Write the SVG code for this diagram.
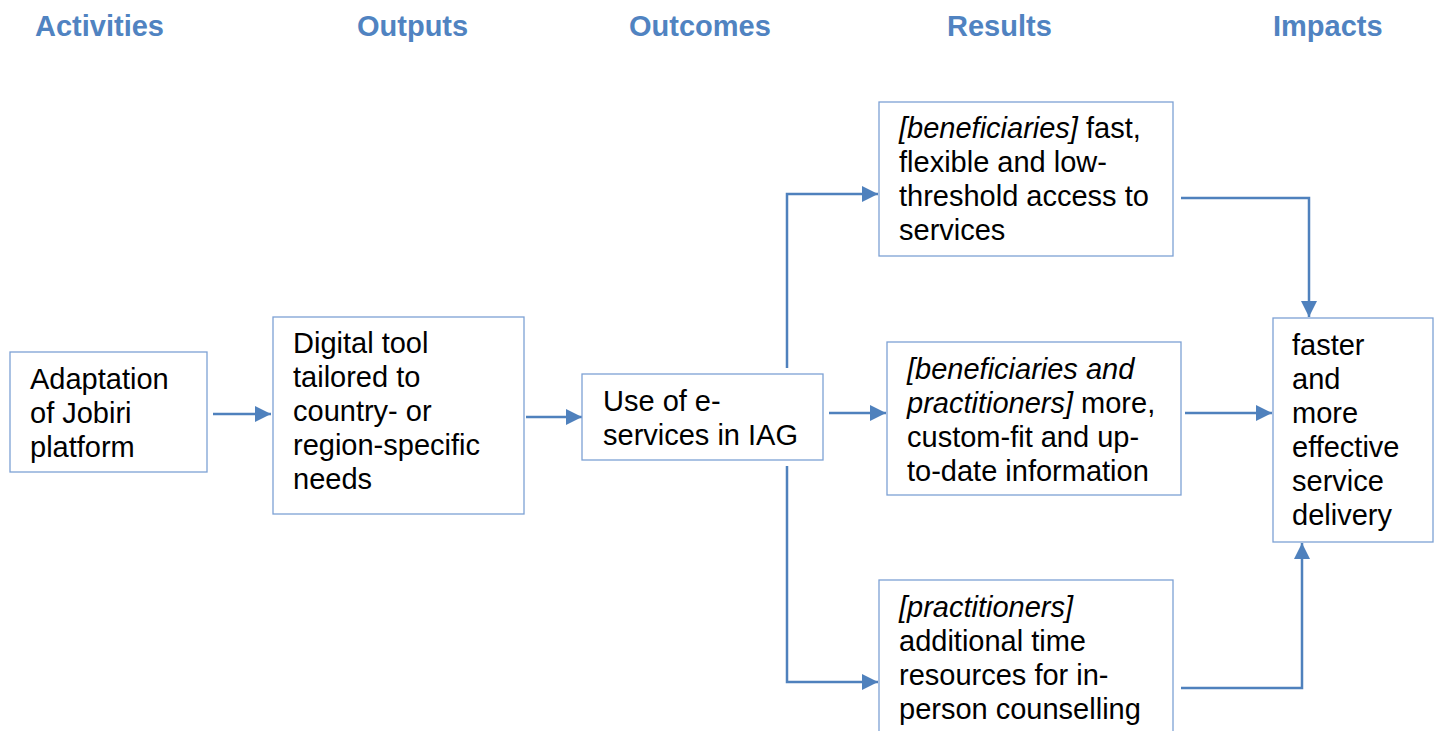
<svg xmlns="http://www.w3.org/2000/svg" width="1439" height="731" viewBox="0 0 1439 731">
  <style>
    .hdr { font-family: "Liberation Sans", Arial, sans-serif; font-size: 29px; font-weight: bold; fill: #5083c1; }
    .box { fill: #ffffff; stroke: #7da1d4; stroke-width: 1.3; }
    .txt { font-family: "Liberation Sans", Arial, sans-serif; font-size: 29px; fill: #000000; }
    .it { font-style: italic; }
    .conn { fill: none; stroke: #4f81bd; stroke-width: 2.5; }
  </style>
  <defs>
    <marker id="arrow" markerUnits="userSpaceOnUse" markerWidth="17" markerHeight="16" refX="16" refY="8" orient="auto">
      <path d="M0,0 L16,8 L0,16 Z" fill="#4f81bd"/>
    </marker>
  </defs>

  <rect width="1439" height="731" fill="#ffffff"/>

  <!-- column headings -->
  <g id="headers">
    <text class="hdr" x="35" y="36">Activities</text>
    <text class="hdr" x="357" y="36">Outputs</text>
    <text class="hdr" x="629" y="36">Outcomes</text>
    <text class="hdr" x="947" y="36">Results</text>
    <text class="hdr" x="1273" y="36">Impacts</text>
  </g>

  <!-- connectors -->
  <g id="connectors">
    <path class="conn" d="M213,414 H271" marker-end="url(#arrow)"/>
    <path class="conn" d="M526,417 H582" marker-end="url(#arrow)"/>
    <path class="conn" d="M829,413 H886" marker-end="url(#arrow)"/>
    <path class="conn" d="M787,368 V194 H878" marker-end="url(#arrow)"/>
    <path class="conn" d="M787,466 V682 H878" marker-end="url(#arrow)"/>
    <path class="conn" d="M1181,198 H1309 V317" marker-end="url(#arrow)"/>
    <path class="conn" d="M1185,413 H1272" marker-end="url(#arrow)"/>
    <path class="conn" d="M1181,688 H1302 V543" marker-end="url(#arrow)"/>
  </g>

  <g id="activity">
    <rect class="box" x="10" y="352" width="197" height="120"/>
    <text class="txt" x="30" y="389">Adaptation</text>
    <text class="txt" x="30" y="423">of Jobiri</text>
    <text class="txt" x="30" y="457">platform</text>
  </g>

  <g id="output">
    <rect class="box" x="273" y="317" width="251" height="197"/>
    <text class="txt" x="293" y="353">Digital tool</text>
    <text class="txt" x="293" y="387">tailored to</text>
    <text class="txt" x="293" y="421">country- or</text>
    <text class="txt" x="293" y="455">region-specific</text>
    <text class="txt" x="293" y="489">needs</text>
  </g>

  <g id="outcome">
    <rect class="box" x="582" y="374" width="241" height="86"/>
    <text class="txt" x="603" y="411">Use of e-</text>
    <text class="txt" x="603" y="445">services in IAG</text>
  </g>

  <g id="result-access">
    <rect class="box" x="879" y="102" width="294" height="154"/>
    <text class="txt" x="899" y="138"><tspan class="it">[beneficiaries]</tspan> fast,</text>
    <text class="txt" x="899" y="172">flexible and low-</text>
    <text class="txt" x="899" y="206">threshold access to</text>
    <text class="txt" x="899" y="240">services</text>
  </g>

  <g id="result-information">
    <rect class="box" x="887" y="342" width="294" height="153"/>
    <text class="txt" x="907" y="379"><tspan class="it">[beneficiaries and</tspan></text>
    <text class="txt" x="907" y="413"><tspan class="it">practitioners]</tspan> more,</text>
    <text class="txt" x="907" y="447">custom-fit and up-</text>
    <text class="txt" x="907" y="481">to-date information</text>
  </g>

  <g id="result-time">
    <rect class="box" x="879" y="580" width="294" height="160"/>
    <text class="txt" x="899" y="617"><tspan class="it">[practitioners]</tspan></text>
    <text class="txt" x="899" y="651">additional time</text>
    <text class="txt" x="899" y="685">resources for in-</text>
    <text class="txt" x="899" y="719">person counselling</text>
  </g>

  <g id="impact">
    <rect class="box" x="1273" y="318" width="160" height="224"/>
    <text class="txt" x="1292" y="355">faster</text>
    <text class="txt" x="1292" y="389">and</text>
    <text class="txt" x="1292" y="423">more</text>
    <text class="txt" x="1292" y="457">effective</text>
    <text class="txt" x="1292" y="491">service</text>
    <text class="txt" x="1292" y="525">delivery</text>
  </g>
</svg>
